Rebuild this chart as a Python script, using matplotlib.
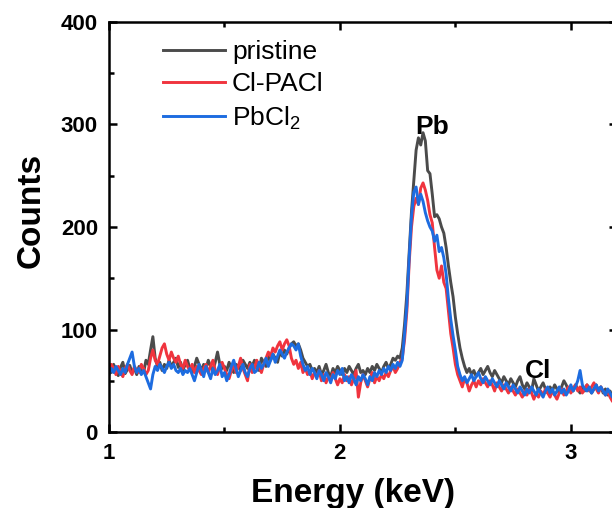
import numpy as np
import matplotlib
matplotlib.use("Agg")
import matplotlib.pyplot as plt
from matplotlib.ticker import MultipleLocator

plt.rcParams['font.family'] = ['Liberation Sans', 'DejaVu Sans']
plt.rcParams['mathtext.fontset'] = 'custom'
plt.rcParams['mathtext.rm'] = 'Liberation Sans'

# energy grid, keV (step 0.01)
energy = np.round(np.arange(1.00, 3.205, 0.01), 2)

pristine = [
    62, 58, 66, 60, 55, 63, 68, 57, 61, 65,
    58, 62, 56, 64, 60, 58, 70, 66, 80, 93,
    72, 64, 68, 60, 66, 62, 70, 64, 68, 72,
    63, 68, 60, 66, 70, 62, 58, 64, 72, 66,
    60, 66, 62, 70, 64, 60, 68, 78, 66, 62,
    64, 60, 68, 62, 58, 66, 64, 60, 70, 66,
    62, 68, 64, 70, 66, 60, 72, 68, 64, 74,
    70, 76, 72, 68, 78, 74, 80, 76, 82, 86,
    88, 84, 86, 80, 72, 68, 64, 66, 60, 62,
    58, 64, 56, 60, 66, 58, 54, 62, 58, 64,
    60, 56, 62, 58, 64, 60, 56, 62, 66, 58,
    60, 56, 62, 58, 64, 60, 66, 62, 58, 64,
    68, 62, 66, 72, 70, 74, 72, 82, 105, 135,
    175, 215, 245, 275, 287, 280, 292, 284, 255, 252,
    232, 210, 212, 208, 200, 194, 180, 162, 146, 132,
    112, 96, 82, 72, 64, 58, 62, 56, 60, 54,
    58, 62, 56, 60, 64, 58, 54, 60, 56, 52,
    48, 54, 50, 46, 52, 48, 44, 50, 54, 46,
    42, 48, 44, 40, 52, 46, 40, 44, 48, 42,
    38, 44, 40, 46, 42, 38, 44, 50, 46, 40,
    44, 40, 46, 42, 38, 44, 40, 46, 42, 38,
    42, 46, 40, 44, 38, 42, 36, 40, 34, 30,
    32,
]

cl_paci = [
    60, 66, 62, 56, 64, 58, 54, 62, 66, 60,
    56, 64, 60, 58, 66, 62, 56, 60, 72, 80,
    70, 66, 74, 82, 86, 76, 70, 78, 72, 68,
    74, 66, 62, 70, 64, 60, 66, 58, 64, 60,
    56, 62, 66, 58, 64, 70, 60, 56, 64, 68,
    62, 56, 52, 60, 66, 58, 64, 72, 62, 56,
    50, 66, 58, 62, 70, 64, 58, 66, 72, 78,
    74, 82, 78, 84, 88, 80, 86, 90, 84, 72,
    66, 70, 62, 68, 58, 62, 56, 60, 52, 58,
    54, 60, 50, 56, 48, 54, 50, 58, 52, 46,
    52, 48, 56, 50, 54, 46, 52, 60, 34, 48,
    56, 50, 44, 52, 58, 48, 54, 50, 56, 52,
    58, 54, 60, 64, 58, 62, 68, 72, 90, 118,
    165, 200, 220, 228, 222, 238, 243, 236, 226, 212,
    204, 180, 158, 150, 162, 146, 140, 118, 96, 82,
    66, 56, 50, 44, 52, 48, 40, 46, 50, 44,
    50, 46, 52, 48, 44, 50, 46, 40, 48, 44,
    40, 46, 42, 38, 44, 40, 36, 42, 38, 34,
    40, 36, 42, 38, 32, 38, 34, 40, 36, 42,
    38, 34, 40, 36, 32, 38, 42, 36, 40, 44,
    38, 42, 46, 40, 44, 38, 42, 46, 40, 44,
    48, 42, 38, 44, 40, 36, 40, 34, 30, 28,
    32,
]

pbcl2 = [
    56, 62, 58, 64, 60, 56, 62, 58, 66, 72,
    78, 64, 58, 62, 56, 60, 54, 48, 42, 56,
    64, 60, 66, 62, 58, 64, 68, 62, 66, 60,
    58, 62, 56, 60, 58, 62, 56, 50, 58, 66,
    60, 54, 64, 58, 52, 62, 56, 60, 66, 54,
    58, 50, 56, 64, 70, 62, 54, 60, 66, 58,
    54, 62, 66, 58, 60, 68, 62, 66, 72, 64,
    70, 76, 68, 74, 80, 76, 72, 78, 82, 86,
    84, 80, 86, 74, 66, 60, 64, 56, 62, 58,
    52, 60, 56, 50, 58, 54, 48, 56, 52, 60,
    56, 62, 50, 54, 48, 56, 52, 46, 54, 50,
    56, 52, 46, 54, 50, 58, 54, 60, 56, 62,
    58, 64, 60, 66, 62, 68, 64, 70, 96, 124,
    170, 210, 234, 239, 222, 232, 225, 214, 206, 200,
    196, 186, 192, 176, 180, 170, 154, 130, 110, 94,
    80, 64, 56, 50, 54, 48, 52, 56, 50, 54,
    58, 52, 48, 54, 50, 46, 52, 48, 44, 50,
    46, 42, 48, 44, 40, 46, 42, 38, 44, 40,
    36, 42, 38, 44, 40, 36, 42, 38, 34, 40,
    44, 38, 42, 36, 40, 44, 38, 42, 36, 40,
    46, 40, 44, 50, 60, 46, 42, 40, 44, 38,
    42, 46, 40, 44, 40, 36, 42, 38, 34, 40,
    44,
]

labels = ['pristine', 'Cl-PACl', r'PbCl$_\mathregular{2}$']
colors = ['#4b4b4b', '#f0343e', '#1d6ce0']
peaks = [('Pb', 2.40, 298), ('Cl', 2.86, 60)]

fig = plt.figure(figsize=(6.12, 5.08), dpi=100)
ax = fig.add_axes([109 / 612, 76 / 508, 508 / 612, 410 / 508])

for y, lab, c in zip([pristine, cl_paci, pbcl2], labels, colors):
    ax.plot(energy, y, color=c, lw=2.1, label=lab)

for name, px, py in peaks:
    ax.text(px, py, name, fontsize=19, fontweight='bold', ha='center', va='center')

ax.set_xlim(1, 3.2)
ax.set_ylim(0, 400)
ax.xaxis.set_major_locator(MultipleLocator(1))
ax.xaxis.set_minor_locator(MultipleLocator(0.5))
ax.yaxis.set_major_locator(MultipleLocator(100))
ax.yaxis.set_minor_locator(MultipleLocator(50))
ax.tick_params(which='both', direction='in', top=True, right=True, width=1.8,
               labelsize=16)
ax.tick_params(which='major', length=6, pad=8)
ax.tick_params(which='minor', length=3.5)
for lbl in ax.get_xticklabels() + ax.get_yticklabels():
    lbl.set_fontweight('bold')
for s in ax.spines.values():
    s.set_linewidth(1.8)

ax.set_xlabel('Energy (keV)', fontsize=24, fontweight='bold')
ax.set_ylabel('Counts', fontsize=24, fontweight='bold')
ax.xaxis.set_label_coords(0.48, -0.112)
ax.yaxis.set_label_coords(-0.122, 0.54)

ax.legend(loc='upper left', bbox_to_anchor=(0.106, 0.955), frameon=False,
          fontsize=19, handlelength=2.35, handletextpad=0.27,
          labelspacing=0.3, borderpad=0, borderaxespad=0)

fig.savefig('out.png', dpi=100)
